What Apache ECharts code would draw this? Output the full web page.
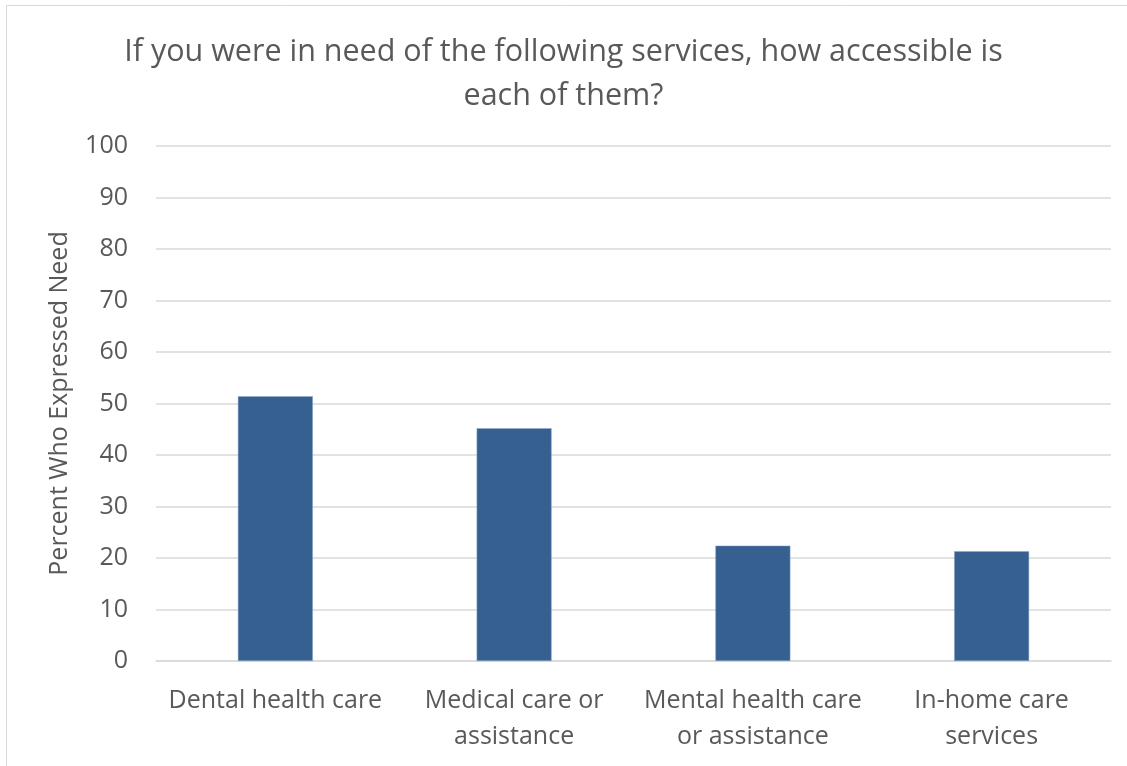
<!DOCTYPE html>
<html>
<head>
<meta charset="utf-8">
<script src="https://cdn.jsdelivr.net/npm/echarts@6/dist/echarts.min.js"></script>
<style>
  html, body { margin: 0; padding: 0; background: #fff; }
  #chart { width: 1127px; height: 766px; }
</style>
</head>
<body>
<div id="chart"></div>
<script>
// Access to services among respondents who expressed a need
const categories = [
  'Dental health care',
  'Medical care or\nassistance',
  'Mental health care\nor assistance',
  'In-home care\nservices'
];
const percentValues = [51.4, 45.2, 22.4, 21.3];
const yTicks = [0, 10, 20, 30, 40, 50, 60, 70, 80, 90, 100];

const textColor = '#595959';
const fontFamily = '"Open Sans", "Noto Sans", sans-serif';

const chart = echarts.init(document.getElementById('chart'));
chart.setOption({
  animation: false,
  backgroundColor: '#ffffff',
  textStyle: { fontFamily: fontFamily },
  title: {
    text: 'If you were in need of the following services, how accessible is\neach of them?',
    left: 'center',
    top: 25,
    textStyle: {
      color: textColor,
      fontFamily: fontFamily,
      fontWeight: 'normal',
      fontSize: 30.5,
      lineHeight: 44
    }
  },
  graphic: [
    { type: 'line', shape: { x1: 6.5, y1: 5.5, x2: 6.5, y2: 766 }, style: { stroke: '#d9d9d9', lineWidth: 1 } },
    { type: 'line', shape: { x1: 6.5, y1: 5.5, x2: 1127, y2: 5.5 }, style: { stroke: '#d9d9d9', lineWidth: 1 } }
  ],
  grid: {
    left: 156,
    right: 16,
    top: 146,
    bottom: 105,
    containLabel: false
  },
  xAxis: {
    type: 'category',
    data: categories,
    axisLine: { lineStyle: { color: '#d9d9d9', width: 1.5 } },
    axisTick: { show: false },
    axisLabel: {
      color: textColor,
      fontSize: 25,
      lineHeight: 36,
      margin: 22,
      interval: 0
    }
  },
  yAxis: {
    type: 'value',
    min: yTicks[0],
    max: yTicks[yTicks.length - 1],
    interval: yTicks[1] - yTicks[0],
    name: 'Percent Who Expressed Need',
    nameLocation: 'middle',
    nameRotate: 90,
    nameGap: 84,
    nameTextStyle: { color: textColor, fontSize: 25 },
    axisLine: { show: false },
    axisTick: { show: false },
    axisLabel: { color: textColor, fontSize: 25, margin: 28 },
    splitLine: { lineStyle: { color: '#d9d9d9', width: 1.5 } }
  },
  series: [{
    type: 'bar',
    data: percentValues,
    barWidth: '31.4%',
    itemStyle: { color: '#356090', borderColor: '#8fa9cc', borderWidth: 0.5 }
  }]
});
</script>
</body>
</html>
